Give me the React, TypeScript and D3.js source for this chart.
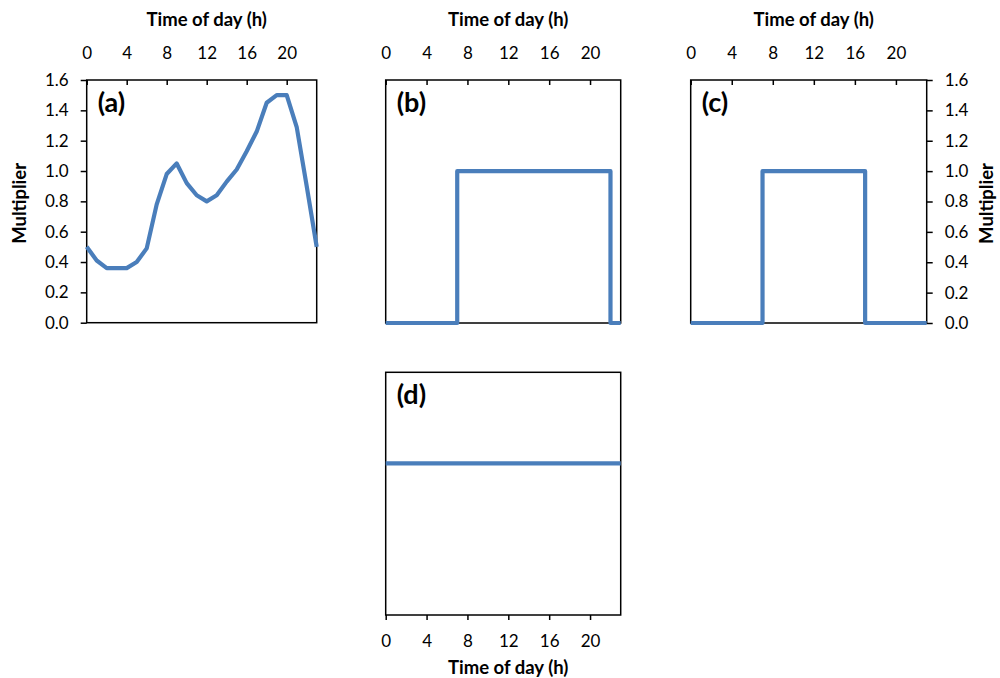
import React, { useEffect, useRef } from 'react';
import * as d3 from 'd3';

// hour of day for each point
const hours = [0, 1, 2, 3, 4, 5, 6, 7, 8, 9, 10, 11, 12, 13, 14, 15, 16, 17, 18, 19, 20, 21, 22, 23];
// (a) varying profile
const profileA = [0.5, 0.41, 0.36, 0.36, 0.36, 0.4, 0.49, 0.78, 0.98, 1.05, 0.92, 0.84, 0.8, 0.84, 0.93, 1.01, 1.13, 1.26, 1.45, 1.5, 1.5, 1.29, 0.9, 0.5];
// (b) on from 7 h to 22 h
const profileB = [0, 0, 0, 0, 0, 0, 0, 1, 1, 1, 1, 1, 1, 1, 1, 1, 1, 1, 1, 1, 1, 1, 0, 0];
// (c) on from 7 h to 17 h
const profileC = [0, 0, 0, 0, 0, 0, 0, 1, 1, 1, 1, 1, 1, 1, 1, 1, 1, 0, 0, 0, 0, 0, 0, 0];
// (d) constant
const profileD = [1, 1, 1, 1, 1, 1, 1, 1, 1, 1, 1, 1, 1, 1, 1, 1, 1, 1, 1, 1, 1, 1, 1, 1];

const xTicks = [0, 4, 8, 12, 16, 20];
const yTicks = [0, 0.2, 0.4, 0.6, 0.8, 1.0, 1.2, 1.4, 1.6];

const FONT = 'Lato, "Open Sans", sans-serif';
const LINE = '#4a7ebb';
const TICK_FS = 17;
const TITLE_FS = 18.5;

export default function App() {
  const ref = useRef<SVGSVGElement>(null);

  useEffect(() => {
    const svg = d3.select(ref.current);
    svg.selectAll('*').remove();

    const panels = [
      { id: '(a)', values: profileA, step: false, left: 86.7, right: 316.7, top: 80, bottom: 322.7, xAxis: 'top', yAxis: 'left' },
      { id: '(b)', values: profileB, step: true, left: 385.7, right: 620.7, top: 80, bottom: 323, xAxis: 'top', yAxis: 'none' },
      { id: '(c)', values: profileC, step: true, left: 690.7, right: 926.7, top: 80, bottom: 323, xAxis: 'top', yAxis: 'right' },
      { id: '(d)', values: profileD, step: true, left: 385.7, right: 620.7, top: 372.3, bottom: 615, xAxis: 'bottom', yAxis: 'none' },
    ];

    panels.forEach(p => {
      const x = d3.scaleLinear().domain([0, 23]).range([p.left, p.right]);
      const y = d3.scaleLinear().domain([0, 1.6]).range([p.bottom, p.top]);
      const g = svg.append('g');

      g.append('rect')
        .attr('x', p.left)
        .attr('y', p.top)
        .attr('width', p.right - p.left)
        .attr('height', p.bottom - p.top)
        .attr('fill', 'none')
        .attr('stroke', '#000')
        .attr('stroke-width', 1.5);

      // x axis, ticks pointing down
      if (p.xAxis === 'top') {
        const ax = g.append('g')
          .attr('transform', 'translate(0,' + p.top + ')')
          .call(d3.axisTop(x).tickValues(xTicks).tickSizeInner(-5).tickSizeOuter(0).tickPadding(21));
        ax.select('.domain').remove();
        ax.selectAll('line').attr('stroke', '#000').attr('stroke-width', 1.5);
        ax.selectAll('text').attr('font-family', FONT).attr('font-size', TICK_FS).attr('fill', '#000');
        g.append('text')
          .attr('x', (p.left + p.right) / 2 + 5)
          .attr('y', 26)
          .attr('text-anchor', 'middle')
          .attr('font-family', FONT)
          .attr('font-weight', 'bold')
          .attr('font-size', TITLE_FS)
          .text('Time of day (h)');
      } else {
        const ax = g.append('g')
          .attr('transform', 'translate(0,' + p.bottom + ')')
          .call(d3.axisBottom(x).tickValues(xTicks).tickSizeInner(5).tickSizeOuter(0).tickPadding(15));
        ax.select('.domain').remove();
        ax.selectAll('line').attr('stroke', '#000').attr('stroke-width', 1.5);
        ax.selectAll('text').attr('font-family', FONT).attr('font-size', TICK_FS).attr('fill', '#000');
        g.append('text')
          .attr('x', (p.left + p.right) / 2 + 5)
          .attr('y', 674)
          .attr('text-anchor', 'middle')
          .attr('font-family', FONT)
          .attr('font-weight', 'bold')
          .attr('font-size', TITLE_FS)
          .text('Time of day (h)');
      }

      if (p.yAxis !== 'none') {
        const isLeft = p.yAxis === 'left';
        const axisFn = isLeft ? d3.axisLeft(y) : d3.axisRight(y);
        const ay = g.append('g')
          .attr('transform', 'translate(' + (isLeft ? p.left : p.right) + ',0)')
          .call(axisFn.tickValues(yTicks).tickFormat(d3.format('.1f')).tickSizeInner(6).tickSizeOuter(0).tickPadding(12));
        ay.select('.domain').remove();
        ay.selectAll('line').attr('stroke', '#000').attr('stroke-width', 1.5);
        ay.selectAll('text').attr('font-family', FONT).attr('font-size', TICK_FS).attr('fill', '#000');
        const lx = isLeft ? 20 : 987;
        const ly = (p.top + p.bottom) / 2 + 2;
        g.append('text')
          .attr('transform', 'translate(' + lx + ',' + ly + ') rotate(-90)')
          .attr('text-anchor', 'middle')
          .attr('dy', '0.35em')
          .attr('font-family', FONT)
          .attr('font-weight', 'bold')
          .attr('font-size', TITLE_FS)
          .text('Multiplier');
      }

      const line = d3.line<number>()
        .x((d, i) => x(hours[i]))
        .y(d => y(d))
        .curve(p.step ? d3.curveStepAfter : d3.curveLinear);

      g.append('path')
        .datum(p.values)
        .attr('d', line)
        .attr('fill', 'none')
        .attr('stroke', LINE)
        .attr('stroke-width', 4.2)
        .attr('stroke-linejoin', 'round');

      g.append('text')
        .attr('x', p.left + 11)
        .attr('y', p.top + 32)
        .attr('font-family', FONT)
        .attr('font-weight', 'bold')
        .attr('font-size', 27)
        .text(p.id);
    });
  }, []);

  return (
    <svg ref={ref} width={1000} height={678}
      style={{ position: 'absolute', left: 0, top: 0, background: '#fff' }} />
  );
}
